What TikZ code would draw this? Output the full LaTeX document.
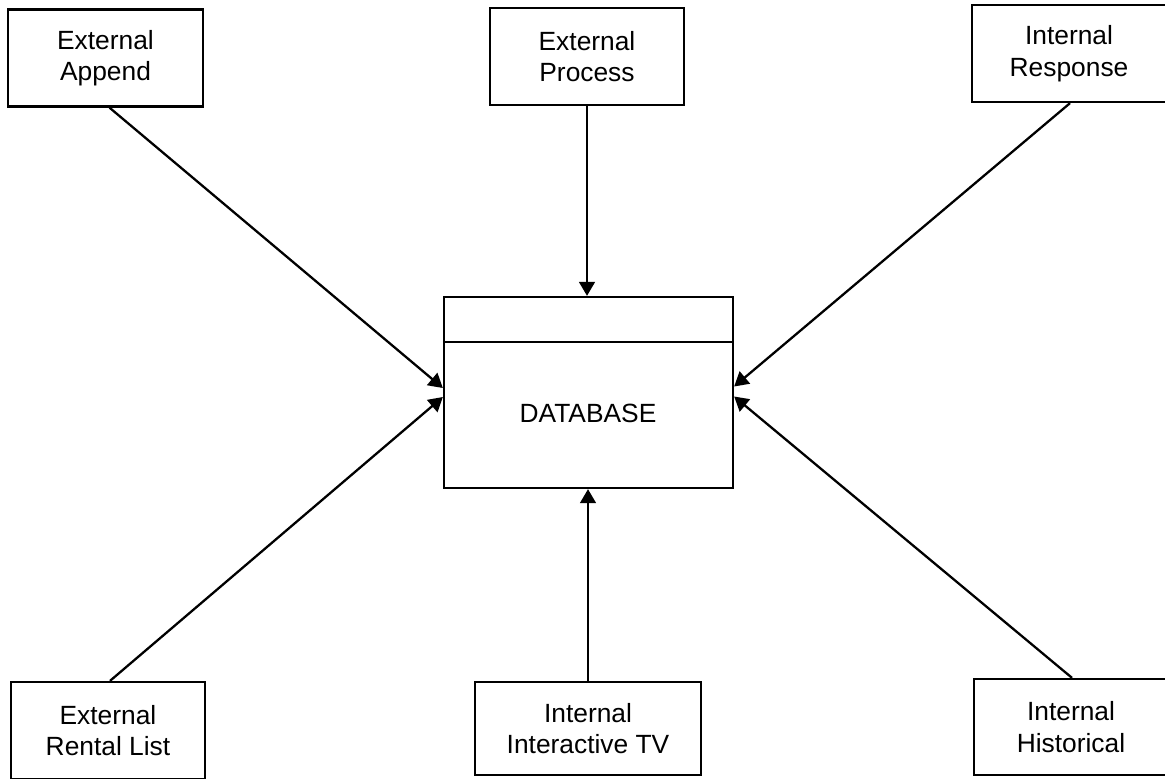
\documentclass[tikz,border=0pt]{standalone}
\usepackage{fontspec}
\setmainfont{Liberation Sans}
\usetikzlibrary{arrows.meta,calc}

\begin{document}
\begin{tikzpicture}[x=0.02cm,y=-0.02cm,
  every node/.style={font=\fontsize{15}{18}\selectfont},
  srcbox/.style={draw,line width=1.3pt,inner sep=0pt,align=center,
    minimum width=#1*0.02cm,minimum height=97*0.02cm},
  srcbox/.default=194,
  feed/.style={line width=1.3pt,-{Triangle[length=8pt,width=9pt]}}]

  \useasboundingbox (0,0) rectangle (1165,778);

  % source boxes
  \node[srcbox=195] (ea) at (105.5,58)   {External\\Append};
  \node[srcbox]     (ep) at (587,56.5)   {External\\Process};
  \node[srcbox]     (ir) at (1069,53.5)  {Internal\\Response};
  \node[srcbox]     (rl) at (108,730.5)  {External\\Rental List};
  \node[srcbox=226,minimum height=93*0.02cm] (it) at (588,728.5) {Internal\\Interactive TV};
  \node[srcbox,minimum height=96*0.02cm]     (ih) at (1071,727)  {Internal\\Historical};

  % central database
  \node[draw,line width=1.3pt,inner sep=0pt,minimum width=289*0.02cm,
        minimum height=191*0.02cm] (db) at (588.5,392.5) {};
  \draw[line width=1.3pt] ($(db.north west)+(0,46)$) -- ($(db.north east)+(0,46)$);
  \node[inner sep=0pt] (dbtext) at (588,413) {DATABASE};

  % arrival points on the database sides
  \coordinate (dbL1) at ($(db.west)+(0,-4.5)$);
  \coordinate (dbL2) at ($(db.west)+(0,4.5)$);
  \coordinate (dbR1) at ($(db.east)+(0,-6)$);
  \coordinate (dbR2) at ($(db.east)+(0,4)$);

  % connectors
  \draw[feed] ($(ea.south)+(4,0)$) -- (dbL1);
  \draw[feed] ($(rl.north)+(2,0)$) -- (dbL2);
  \draw[feed] (ep.south) -- (ep.south |- db.north);
  \draw[feed] (it.north) -- (it.north |- db.south);
  \draw[feed] ($(ir.south)+(1,0)$) -- (dbR1);
  \draw[feed] ($(ih.north)+(1,0)$) -- (dbR2);
\end{tikzpicture}
\end{document}
